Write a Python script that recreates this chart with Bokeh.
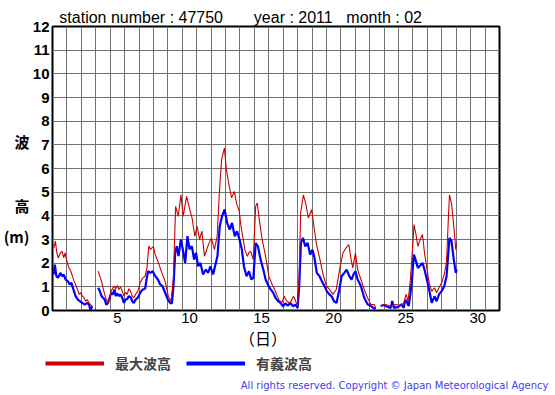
import numpy as np
from bokeh.plotting import figure
from bokeh.layouts import column
from bokeh.models import (Range1d, FixedTicker, Legend, LegendItem, LinearAxis,
                          Label, ColumnDataSource)
from bokeh.embed import file_html
from bokeh.resources import INLINE

NaN = float("nan")

# elapsed days since 2011-02-01 00:00, and wave heights (m)
t_max = [0.10, 0.20, 0.30, 0.40, 0.55, 0.67, 0.78, 0.87, 1.00, 1.15, 1.27, 1.38,
         1.50, 1.60, 1.73, 1.84, 1.96, 2.07, 2.18, 2.30, 2.41, 2.53, 2.64, 2.76,
         2.85,
         3.17, 3.28, 3.40, 3.50, 3.62, 3.73, 3.85, 3.96, 4.07, 4.19, 4.30, 4.38,
         4.50, 4.61, 4.72, 4.84, 4.95, 5.07, 5.18, 5.30, 5.41, 5.53, 5.64, 5.76,
         5.92, 6.08, 6.26, 6.42, 6.55, 6.68, 6.80, 6.90, 7.00, 7.12, 7.35, 7.58,
         7.81, 8.03, 8.22, 8.38, 8.54, 8.72, 8.91, 9.06, 9.30, 9.52, 9.68, 9.87,
         10.03, 10.20, 10.36, 10.54, 10.77, 11.01, 11.23, 11.42, 11.58, 11.73,
         11.92, 12.06, 12.26, 12.42, 12.61, 12.76, 12.95, 13.07, 13.23, 13.35,
         13.51, 13.63, 13.74, 13.92, 14.09, 14.20, 14.31, 14.54, 14.78, 15.00,
         15.23, 15.46, 15.69, 15.91, 16.07, 16.25, 16.48, 16.71, 16.83, 16.99,
         17.10, 17.21, 17.40, 17.58, 17.74, 17.97, 18.13, 18.31, 18.55, 18.77,
         19.00, 19.22, 19.45, 19.68, 19.91, 20.14, 20.36, 20.55, 20.71, 20.82,
         21.01, 21.16, 21.39, 21.62, 21.85, 22.08, 22.31, 22.42,
         22.60,
         22.76, 23.10, 23.45, 23.79, 24.13, 24.36, 24.52, 24.66, 24.82, 24.98,
         25.07, 25.21, 25.34, 25.50, 25.66, 25.80, 25.96, 26.12, 26.30, 26.49,
         26.64, 26.80, 26.99, 27.17, 27.33, 27.45, 27.53, 27.67, 27.83, 27.97,
         28.03]
h_max = [2.65, 2.93, 2.44, 2.22, 2.44, 2.50, 2.22, 2.44, 2.08, 1.80, 1.66, 1.45,
         1.24, 1.10, 0.89, 0.68, 0.75, 0.61, 0.54, 0.39, 0.46, 0.32, 0.25, 0.18,
         NaN,
         1.66, 1.45, 1.24, 0.96, 0.68, 0.46, 0.32, 0.54, 0.82, 0.96, 1.03, 0.92,
         1.06, 0.89, 1.00, 0.82, 0.61, 0.77, 0.68, 0.92, 0.82, 0.61, 0.54, 0.68,
         0.82, 1.17, 1.38, 1.45, 1.80, 2.72, 2.58, 2.65, 2.70, 2.36, 2.01, 1.59,
         1.24, 0.60, 0.39, 1.31, 4.40, 3.98, 4.89, 3.98, 4.82, 4.26, 3.91, 3.14,
         3.56, 3.00, 3.35, 2.29, 2.71, 3.07, 2.57, 3.14, 5.08, 6.37,
         6.86, 5.95, 5.24, 4.76, 5.03, 4.54, 4.19, 3.56, 3.00, 2.55,
         2.29, 2.45, 2.50, 2.15, 4.40, 4.54, 3.98, 3.00, 2.29, 1.45,
         1.10, 0.81, 0.46, 0.32, 0.60, 0.39, 0.32, 0.60, 0.46, 0.18,
         1.31, 4.12, 4.89, 4.47, 3.91, 4.26, 3.56, 2.78, 2.15, 1.52,
         1.03, 0.89, 0.68, 0.89, 1.73, 2.43, 2.65, 2.78, 2.15, 1.80,
         2.43, 1.73, 1.31, 0.89, 0.54, 0.25, 0.25, 0.11,
         NaN,
         0.21, 0.25, 0.18, 0.25, 0.21, 0.32, 0.68, 0.39, 1.31, 2.71,
         3.63, 3.21, 2.71, 3.00, 3.21, 2.43, 1.80, 1.17, 0.81, 0.96,
         0.75, 0.96, 1.17, 1.52, 2.08, 3.84, 4.89, 4.54, 3.56, 2.57,
         2.86]

t_sig = [0.07, 0.16, 0.27, 0.38, 0.55, 0.67, 0.78, 0.91, 1.05, 1.20, 1.31, 1.45,
         1.60, 1.76, 1.90, 2.07, 2.23, 2.41, 2.53, 2.64, 2.76,
         2.85, 2.93, 2.99, 3.05,
         3.17, 3.28, 3.40, 3.50, 3.62, 3.73, 3.85, 3.96, 4.07, 4.19, 4.30, 4.38,
         4.50, 4.61, 4.72, 4.84, 4.95, 5.07, 5.18, 5.30, 5.44, 5.53, 5.64, 5.76,
         5.92, 6.08, 6.26, 6.42, 6.62, 6.79, 6.95, 7.13, 7.31, 7.47, 7.63, 7.81,
         8.00, 8.16, 8.28, 8.39, 8.51, 8.62, 8.74, 8.90, 9.04, 9.20, 9.36, 9.50,
         9.66, 9.82, 9.95, 10.10, 10.26, 10.44, 10.63, 10.79, 10.95, 11.14, 11.30,
         11.44, 11.60, 11.76, 11.94, 12.11, 12.29, 12.45, 12.64, 12.80, 12.97,
         13.13, 13.28, 13.46, 13.63, 13.79, 13.93, 14.09, 14.25, 14.43, 14.62,
         14.78, 14.94, 15.13, 15.31, 15.47, 15.65, 15.81, 15.99, 16.15, 16.33,
         16.49, 16.68, 16.84, 17.00, 17.11, 17.23, 17.37, 17.53, 17.69, 17.87,
         18.03, 18.17, 18.33, 18.52, 18.68, 18.86, 19.02, 19.20, 19.36, 19.52,
         19.70, 19.89, 20.05, 20.24, 20.40, 20.58, 20.74, 20.87, 21.01, 21.16,
         21.39, 21.62, 21.85, 22.08, 22.24, 22.42,
         22.60,
         22.76, 22.99, 23.22, 23.45, 23.56, 23.68, 23.90, 24.06, 24.20, 24.36,
         24.47, 24.59, 24.70, 24.82, 24.93, 24.98, 25.07, 25.21, 25.34, 25.50,
         25.66, 25.80, 25.96, 26.12, 26.30, 26.49, 26.64, 26.80, 26.99, 27.17,
         27.33, 27.45, 27.53, 27.67, 27.83, 27.97, 28.03]
h_sig = [1.52, 1.94, 1.45, 1.38, 1.59, 1.45, 1.52, 1.31, 1.24, 1.10, 1.17, 0.89,
         0.61, 0.46, 0.39, 0.32, 0.25, 0.32, 0.25, 0.02, 0.18,
         NaN, 0.04, 0.03, NaN,
         0.96, 0.82, 0.61, 0.54, 0.46, 0.25, 0.32, 0.54, 0.75, 0.68, 0.89, 0.61,
         0.72, 0.61, 0.68, 0.54, 0.32, 0.46, 0.49, 0.61, 0.54, 0.39, 0.32, 0.46,
         0.54, 0.75, 0.89, 0.92, 1.66, 1.59, 1.66, 1.45, 1.31, 1.10, 1.03, 0.75,
         0.46, 0.32, 0.30, 1.03, 2.44, 2.72, 2.30, 3.00, 2.58, 2.01, 3.14, 2.58,
         2.72, 2.15, 2.44, 1.87, 2.01, 1.52, 1.73, 1.59, 1.87, 1.52, 1.94,
         2.30, 3.56, 3.99, 4.27, 3.70, 3.42, 3.70, 3.14, 3.35, 3.00,
         2.58, 1.85, 1.45, 1.66, 1.31, 1.38, 2.85, 2.71, 2.15, 1.73,
         1.31, 1.10, 0.89, 0.75, 0.53, 0.39, 0.32, 0.18, 0.30, 0.21,
         0.32, 0.18, 0.25, 0.11, 1.03, 2.86, 3.07, 2.71, 2.86, 2.36,
         2.57, 2.22, 1.59, 1.45, 1.24, 1.03, 0.82, 0.68, 0.60, 0.39,
         0.32, 0.89, 1.45, 1.59, 1.73, 1.45, 1.31, 1.52, 1.66, 1.31,
         1.03, 0.54, 0.26, 0.19, 0.11, 0.07,
         NaN,
         0.19, 0.23, 0.16, 0.11, 0.40, 0.11, 0.14, 0.19, 0.26, 0.11,
         0.45, 0.35, 0.19, 0.69, 1.26, 1.73, 2.36, 2.08, 1.80, 1.90,
         2.01, 1.73, 1.31, 0.89, 0.32, 0.60, 0.39, 0.68, 0.82, 1.03,
         1.45, 2.43, 3.07, 2.93, 2.15, 1.59, 1.73]

day_ticks = [4.5, 9.5, 14.5, 19.5, 24.5, 29.5]
day_labels = ["5", "10", "15", "20", "25", "30"]
y_ticks = list(range(0, 13))

header_texts = ["station number : 47750", "year : 2011", "month : 02"]
y_title = ["波", "高", "(m)"]
x_title = "（日）"
legend_max = "最大波高"
legend_sig = "有義波高"
copyright_text = "All rights reserved. Copyright © Japan Meteorological Agency"

# placement of the auxiliary texts (data units of the chart's axes)
header_pos = [6.15, 16.7, 23.0]
y_title_pos = [7.12, 4.43, 3.13]
x_title_pos = 14.6

RED = "#cc0000"
BLUE = "#0000ff"
JP = "Noto Sans CJK JP"
LAT = "Liberation Sans"

W = 555
H1 = 352
H2 = 395 - H1

p = figure(width=W, height=H1, output_backend="svg", toolbar_location=None,
           x_range=Range1d(0, 31), y_range=Range1d(0, 12),
           min_border_left=46, min_border_right=56, min_border_top=26,
           min_border_bottom=H1 - 311)
p.background_fill_color = "white"
p.border_fill_color = "white"
p.outline_line_color = "black"
p.outline_line_width = 2

src_max = ColumnDataSource(dict(t=t_max, h=h_max))
src_sig = ColumnDataSource(dict(t=t_sig, h=h_sig))
r_sig = p.line("t", "h", source=src_sig, line_color=BLUE, line_width=2.2)
r_max = p.line("t", "h", source=src_max, line_color=RED, line_width=1.1)


def plain(ax):
    ax.axis_line_color = None
    ax.major_tick_line_color = None
    ax.minor_tick_line_color = None
    ax.major_tick_out = 0
    ax.major_tick_in = 0
    ax.major_label_text_color = "black"


# main axes
p.xaxis.ticker = FixedTicker(ticks=day_ticks)
p.xaxis.major_label_overrides = {t: l for t, l in zip(day_ticks, day_labels)}
p.yaxis.ticker = FixedTicker(ticks=y_ticks)
for ax in (p.xaxis[0], p.yaxis[0]):
    plain(ax)
    ax.major_label_text_font = LAT
p.xaxis.major_label_text_font_size = "15px"
p.xaxis.major_label_standoff = 2
p.yaxis.major_label_text_font_size = "15px"
p.yaxis.major_label_text_font_style = "bold"
p.yaxis.major_label_standoff = 3

p.xgrid.ticker = FixedTicker(ticks=list(range(1, 31)))
p.ygrid.ticker = FixedTicker(ticks=list(range(1, 12)))
for g in (p.xgrid[0], p.ygrid[0]):
    g.grid_line_color = "#707070"
    g.grid_line_width = 1

# header row (axis above, labels only)
top = LinearAxis(ticker=FixedTicker(ticks=header_pos),
                 major_label_overrides={k: v for k, v in zip(header_pos, header_texts)})
plain(top)
top.major_label_text_font = LAT
top.major_label_text_font_size = "16px"
top.major_label_standoff = 1
p.add_layout(top, "above")

# vertical y title (axis on the left, labels only)
yt = LinearAxis(ticker=FixedTicker(ticks=y_title_pos),
                major_label_overrides={k: v for k, v in zip(y_title_pos, y_title)})
plain(yt)
yt.major_label_text_font = JP
yt.major_label_text_font_size = "15px"
yt.major_label_text_font_style = "bold"
yt.major_label_standoff = 0
p.add_layout(yt, "left")

# x title
xt = LinearAxis(ticker=FixedTicker(ticks=[x_title_pos]),
                major_label_overrides={x_title_pos: x_title})
plain(xt)
xt.major_label_text_font = JP
xt.major_label_text_font_size = "16px"
xt.major_label_standoff = 0
p.add_layout(xt, "below")

# ---- bottom strip: legend and copyright (page coordinates) ----
p2 = figure(width=W, height=H2, output_backend="svg", toolbar_location=None,
            x_range=Range1d(0, W), y_range=Range1d(395, H1),
            x_axis_location=None, y_axis_location=None,
            min_border_left=0, min_border_right=0, min_border_top=0,
            min_border_bottom=0)
p2.outline_line_color = None
p2.grid.visible = False
p2.background_fill_color = "white"
p2.border_fill_color = "white"

for fig in (p, p2):
    if "frame_align" in fig.properties():
        fig.frame_align = False

# legend swatches: zero-length lines placed off the strip's visible range
d_max = p2.line([0, 0], [0, 0], line_color=RED, line_width=4)
d_sig = p2.line([0, 0], [0, 0], line_color=BLUE, line_width=4)
legend = Legend(items=[LegendItem(label=legend_max, renderers=[d_max]),
                       LegendItem(label=legend_sig, renderers=[d_sig])],
                location=(45, H2 - 11 - 10), orientation="horizontal",
                glyph_width=59, glyph_height=20, label_height=20,
                label_standoff=11, spacing=15, padding=0, margin=0,
                border_line_color=None, background_fill_alpha=0,
                label_text_font=JP, label_text_font_size="14px",
                label_text_font_style="bold", label_text_baseline="middle")
p2.add_layout(legend, "center")

p2.add_layout(Label(x=548, y=385, text=copyright_text, text_align="right",
                    text_baseline="middle", text_font="DejaVu Sans",
                    text_font_size="10px", text_color="#4040f0"))

layout = column(p, p2, spacing=0)
open("out.html", "w").write(file_html(layout, INLINE))
